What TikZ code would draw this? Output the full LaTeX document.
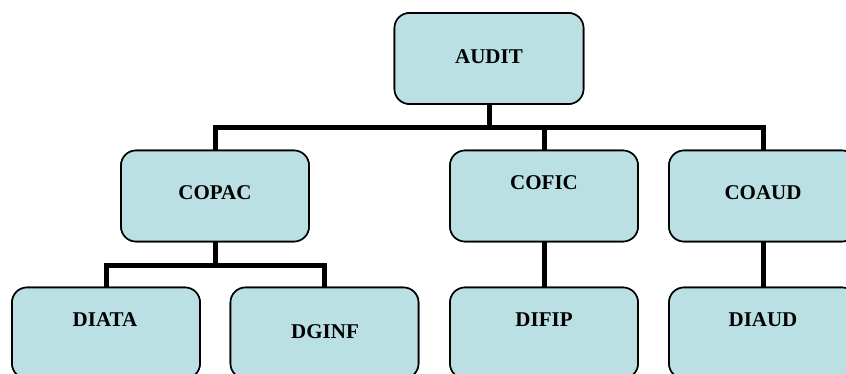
\documentclass[tikz,border=0pt]{standalone}
\usepackage{fontspec}
\setmainfont{Liberation Serif}
\definecolor{boxfill}{RGB}{186,224,228}
\begin{document}
\begin{tikzpicture}[x=1pt,y=-1pt,
  orgbox/.style={draw=black,fill=boxfill,line width=1.6pt,rounded corners=15pt,
    minimum width=188pt,minimum height=91pt,inner sep=0pt,outer sep=0pt},
  lbl/.style={font=\fontsize{21}{24}\selectfont\bfseries,inner sep=0pt},
  conn/.style={line width=5pt,line join=miter}]
\useasboundingbox (0,0) rectangle (846,374);
\clip (0,0) rectangle (846,374);
\coordinate (j1) at (489,127.5);
\coordinate (j2) at (215,265.5);
% boxes (shapes)
\node[orgbox,minimum width=189pt] (audit) at (489,58.5) {};
\node[orgbox] (copac) at (215,196) {};
\node[orgbox] (cofic) at (544,196) {};
\node[orgbox] (coaud) at (763,196) {};
\node[orgbox] (diata) at (106,333) {};
\node[orgbox] (dginf) at (324.5,333) {};
\node[orgbox] (difip) at (544,333) {};
\node[orgbox] (diaud) at (763,333) {};
% connectors
\draw[conn] (audit.south) -- (j1);
\draw[conn] (copac.north) |- (j1) -| (coaud.north);
\draw[conn] (j1 -| cofic.north) -- (cofic.north);
\draw[conn] (copac.south) -- (j2);
\draw[conn] (diata.north) |- (j2) -| (dginf.north);
\draw[conn] (cofic.south) -- (difip.north);
\draw[conn] (coaud.south) -- (diaud.north);
% redraw box outlines on top of connectors
\foreach \n in {audit,copac,cofic,coaud,diata,dginf,difip,diaud}{
  \draw[line width=1.6pt,rounded corners=15pt,fill=boxfill] (\n.south west) rectangle (\n.north east);
}
\node[lbl] (taudit) at (489,57) {AUDIT};
\node[lbl] (tcopac) at (215,193) {COPAC};
\node[lbl] (tcofic) at (544,183) {COFIC};
\node[lbl] (tcoaud) at (763,193) {COAUD};
\node[lbl] (tdiata) at (105,320) {DIATA};
\node[lbl] (tdginf) at (325,332) {DGINF};
\node[lbl] (tdifip) at (544,320) {DIFIP};
\node[lbl] (tdiaud) at (763,320) {DIAUD};
\end{tikzpicture}
\end{document}
